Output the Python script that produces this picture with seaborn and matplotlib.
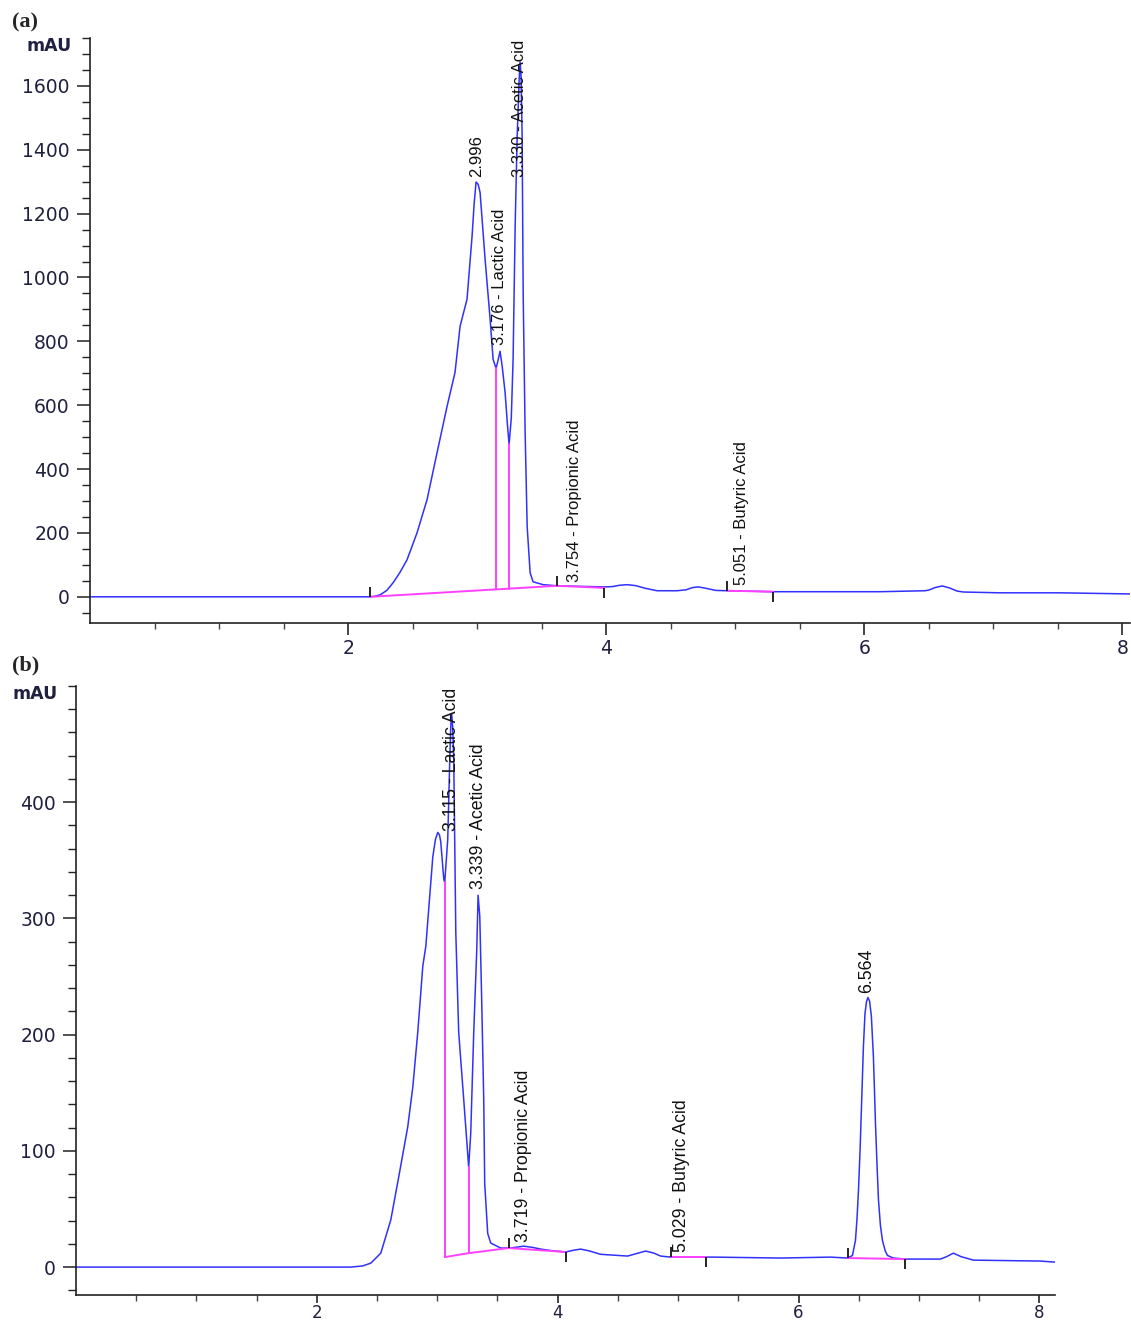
import matplotlib
matplotlib.use("Agg")
import matplotlib.pyplot as plt
import seaborn as sns
import numpy as np

# ---- panel (a) trace (time in min, signal in mAU)
a_time = [0.0, 0.85, 2.171, 2.210, 2.248, 2.300, 2.349, 2.400, 2.457, 2.535,
          2.612, 2.690, 2.767, 2.829, 2.868, 2.922, 2.961, 2.977, 2.992, 3.008,
          3.023, 3.062, 3.101, 3.124, 3.147, 3.162, 3.178, 3.195, 3.217, 3.235,
          3.248, 3.265, 3.279, 3.295, 3.310, 3.326, 3.333, 3.341, 3.349, 3.357,
          3.372, 3.388, 3.411, 3.434, 3.512, 3.620, 3.984, 4.050, 4.100, 4.163,
          4.230, 4.300, 4.395, 4.550, 4.620, 4.670, 4.713, 4.770, 4.850, 4.938,
          5.295, 5.814, 6.124, 6.470, 6.500, 6.550, 6.605, 6.660, 6.720, 6.770,
          7.054, 7.520, 8.060]
a_signal = [0, 0, 0, 2, 6, 20, 44, 75, 116, 201,
            304, 452, 596, 703, 847, 932, 1129, 1230, 1299, 1292,
            1267, 1057, 869, 744, 715, 740, 769, 720, 640, 540,
            477, 560, 744, 1161, 1434, 1620, 1675, 1630, 1440, 954,
            520, 220, 75, 47, 38, 34.5, 31, 32, 36, 38,
            35, 27, 19, 19, 22, 29, 31, 27, 20, 19,
            16, 16, 16, 19, 21, 29, 34, 28, 18, 15,
            12.5, 12.5, 9]

# ---- panel (b) trace
b_time = [0.0, 2.282, 2.380, 2.448, 2.531, 2.614, 2.680, 2.755, 2.797, 2.838,
          2.880, 2.905, 2.929, 2.963, 2.985, 3.004, 3.018, 3.029, 3.054, 3.062,
          3.087, 3.104, 3.112, 3.120, 3.128, 3.137, 3.154, 3.178, 3.220, 3.261,
          3.278, 3.303, 3.328, 3.339, 3.353, 3.369, 3.386, 3.394, 3.419, 3.444,
          3.527, 3.593, 3.650, 3.718, 3.790, 3.859, 3.960, 4.066, 4.130, 4.191,
          4.260, 4.357, 4.581, 4.650, 4.730, 4.800, 4.855, 4.938, 5.295, 5.851,
          6.266, 6.407, 6.448, 6.473, 6.486, 6.498, 6.511, 6.523, 6.539, 6.552,
          6.564, 6.576, 6.590, 6.605, 6.622, 6.630, 6.639, 6.652, 6.664, 6.680,
          6.697, 6.720, 6.739, 6.788, 6.888, 7.178, 7.230, 7.286, 7.350, 7.452,
          8.008, 8.130]
b_signal = [0, 0, 1, 3.4, 12, 40.5, 77.6, 120.7, 155, 202,
            259, 276, 308, 353, 368, 374, 372, 366, 334, 331,
            368, 437, 465, 476, 465, 437, 288, 202, 144, 86,
            115, 202, 273, 320, 302, 230, 144, 72, 29, 20.7,
            16.4, 16.4, 17, 18, 17, 15.5, 14, 13, 14.5, 15.5,
            14, 11, 9.5, 11.5, 13.8, 12, 9.5, 8.6, 8.6, 7.8,
            8.6, 7.8, 10, 23, 42, 66, 100, 138, 190, 218,
            228, 232, 229, 216, 181, 155, 124, 88, 58, 36,
            23, 14, 10, 7.8, 6.9, 6.9, 9, 12, 9, 6,
            5.2, 4.3]

# ---- integration baselines (pink)
a_base = [([2.171, 3.620], [0, 34.5]), ([3.620, 3.984], [34.5, 28]),
          ([4.938, 5.295], [19, 16]),
          ([3.147, 3.147], [23, 715]), ([3.248, 3.248], [26, 477])]
b_base = [([3.062, 3.261, 3.593], [8.6, 12, 16.4]), ([3.593, 4.066], [16.4, 13]),
          ([4.938, 5.228], [8.6, 8.6]), ([6.407, 6.888], [7.8, 6.9]),
          ([3.062, 3.062], [8.6, 331]), ([3.261, 3.261], [12, 86])]

# ---- peak start / end markers
a_starts = ([2.171, 3.620, 4.938], [0, 34.5, 19])
a_ends = ([3.984, 5.295], [28, 16])
b_starts = ([3.593, 4.938, 6.407], [16.4, 8.6, 7.8])
b_ends = ([4.066, 5.228, 6.888], [13, 8.6, 6.9])

# ---- peak labels: (x, y of text start, text)
a_labels = [(2.996, 1315, "2.996"), (3.176, 790, "3.176 - Lactic Acid"),
            (3.330, 1315, "3.330 - Acetic Acid"),
            (3.754, 47, "3.754 - Propionic Acid"),
            (5.051, 38, "5.051 - Butyric Acid")]
b_labels = [(3.115, 375, "3.115 - Lactic Acid"), (3.339, 325, "3.339 - Acetic Acid"),
            (3.719, 22, "3.719 - Propionic Acid"),
            (5.029, 13, "5.029 - Butyric Acid"), (6.564, 236, "6.564")]

sns.set_style("ticks")
plt.rcParams['font.family'] = ['DejaVu Sans']

LINE = "#3030ff"
PINK = "#ff40ff"
TICKC = "#202040"
LABEL_FONT = "Liberation Sans"

fig = plt.figure(figsize=(11.31, 13.22), dpi=100)
W, H = 1131, 1322
ax_a = fig.add_axes([90 / W, 1 - 623 / H, (1130 - 90) / W, (623 - 38) / H])
ax_b = fig.add_axes([76 / W, 1 - 1295 / H, (1055 - 76) / W, (1295 - 686) / H])


def draw_panel(ax, t, s, base, starts, ends, labels, xmax, ylim, ymaj, ymin_step,
               fs, xlen, xpad, xlab):
    sns.lineplot(x=t, y=s, ax=ax, color=LINE, lw=1.1, estimator=None, sort=False)
    for bt, bv in base:
        ax.plot(bt, bv, color=PINK, lw=1.4, zorder=3)
    ax.plot(starts[0], starts[1], ls="none", marker=2, ms=7, mew=1.2, color="black", zorder=4)
    ax.plot(ends[0], ends[1], ls="none", marker=3, ms=7, mew=1.2, color="black", zorder=4)
    for x, y, txt in labels:
        ax.text(x, y, txt, rotation=90, ha="center", va="bottom", fontsize=fs,
                family=LABEL_FONT, color="#111111")
    ax.set_xlim(0, xmax)
    ax.set_ylim(*ylim)
    ax.set_xticks([2, 4, 6, 8])
    ax.set_xticks(np.arange(0.5, xmax, 0.5), minor=True)
    ax.set_yticks(np.arange(0, ylim[1] - 1, ymaj))
    ax.set_yticks(np.arange(-ymin_step * np.floor(-ylim[0] / ymin_step), ylim[1] + 1, ymin_step), minor=True)
    ax.set_xlabel("")
    ax.set_ylabel("")
    sns.despine(ax=ax)
    for sp in ("left", "bottom"):
        ax.spines[sp].set_linewidth(1.2)
        ax.spines[sp].set_color("#222222")
    ax.tick_params(axis="y", which="major", length=9.5, width=1.1, pad=5,
                   labelsize=13.5, labelcolor=TICKC, color="#222222")
    ax.tick_params(axis="y", which="minor", length=5.5, width=1.0, color="#222222")
    ax.tick_params(axis="x", which="major", length=xlen, width=1.4, pad=xpad,
                   labelsize=xlab, labelcolor=TICKC, color="#444444")
    ax.tick_params(axis="x", which="minor", length=4.5, width=1.0, color="#444444")
    ax.annotate("mAU", xy=(0, ylim[1]), xycoords=("axes fraction", "data"),
                xytext=(-13, -6), textcoords="offset points", ha="right", va="center",
                fontsize=12.5, fontweight="bold", color=TICKC)


draw_panel(ax_a, a_time, a_signal, a_base, a_starts, a_ends, a_labels,
           8.06, (-82, 1750), 200, 50, 12, 8.5, 3, 13.5)
draw_panel(ax_b, b_time, b_signal, b_base, b_starts, b_ends, b_labels,
           8.13, (-24, 500), 100, 20, 12.8, 6, 0.5, 12)

fig.text(12 / W, 1 - 22 / H, "(a)", ha="left", va="center", fontsize=16,
         fontweight="bold", family="Liberation Serif")
fig.text(12 / W, 1 - 665 / H, "(b)", ha="left", va="center", fontsize=16,
         fontweight="bold", family="Liberation Serif")

fig.savefig("out.png", dpi=100)
